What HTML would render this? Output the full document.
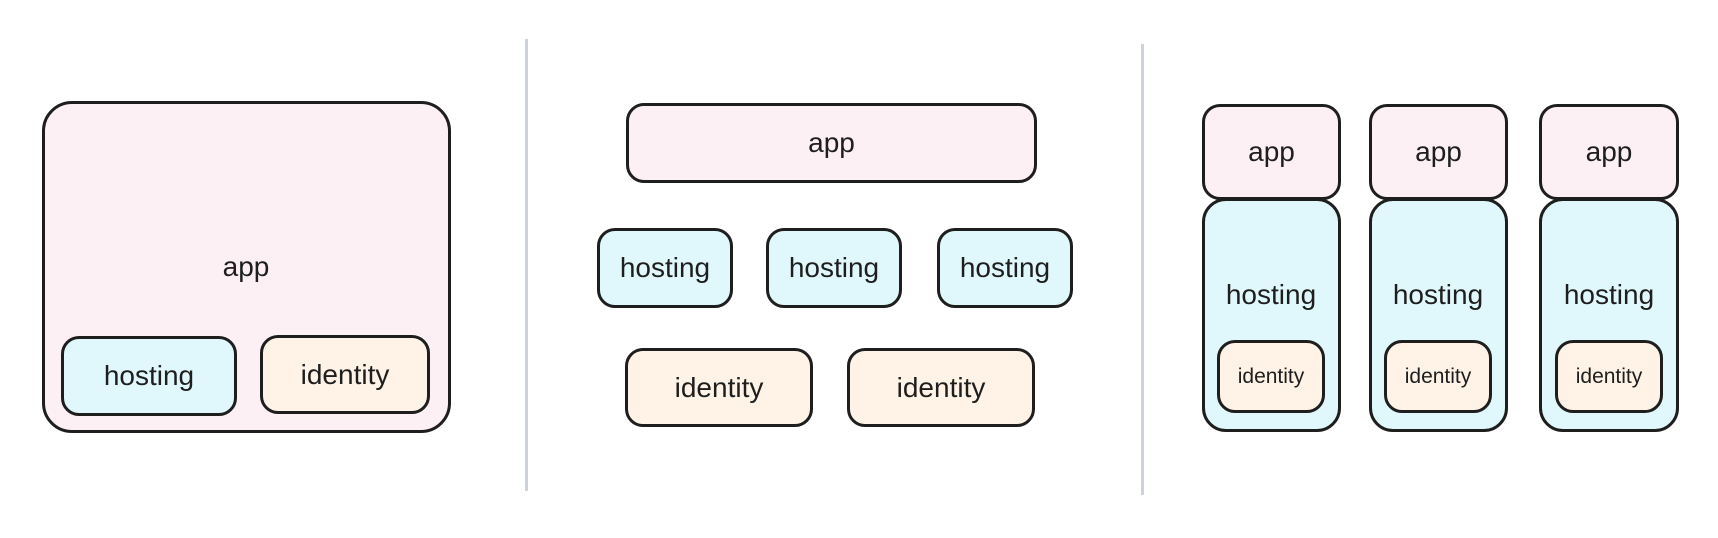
<!DOCTYPE html>
<html><head><style>
body{margin:0;width:1718px;height:538px;background:#fff;position:relative;overflow:hidden;font-family:"Liberation Sans",sans-serif;color:#1e1e1e}
.b{position:absolute;box-sizing:border-box;border:3px solid #1e1e1e;border-radius:18px;display:flex;align-items:center;justify-content:center;font-size:28px}
.p{background:#fcf0f4}.c{background:#e0f8fb}.y{background:#fef3e6}
.d{position:absolute;width:3px;background:#cdd3de}
.t{position:absolute;font-size:28px;transform:translate(-50%,-50%)}
</style></head><body>
<div class="b p" style="left:42px;top:101px;width:409px;height:332px;border-radius:30px"></div>
<div class="t" style="left:246px;top:267px">app</div>
<div class="b c" style="left:61px;top:336px;width:176px;height:80px">hosting</div>
<div class="b y" style="left:260px;top:335px;width:170px;height:79px">identity</div>
<div class="d" style="left:525px;top:39px;height:452px"></div>

<div class="b p" style="left:626px;top:103px;width:411px;height:80px">app</div>
<div class="b c" style="left:597px;top:228px;width:136px;height:80px">hosting</div>
<div class="b c" style="left:766px;top:228px;width:136px;height:80px">hosting</div>
<div class="b c" style="left:937px;top:228px;width:136px;height:80px">hosting</div>
<div class="b y" style="left:625px;top:348px;width:188px;height:79px">identity</div>
<div class="b y" style="left:847px;top:348px;width:188px;height:79px">identity</div>
<div class="d" style="left:1141px;top:44px;height:451px"></div>

<div class="b c" style="left:1202px;top:198px;width:139px;height:234px;border-radius:24px"></div>
<div class="b p" style="left:1202px;top:104px;width:139px;height:96px">app</div>
<div class="t" style="left:1271px;top:295px">hosting</div>
<div class="b y" style="left:1217px;top:340px;width:108px;height:73px;font-size:21px">identity</div>

<div class="b c" style="left:1369px;top:198px;width:139px;height:234px;border-radius:24px"></div>
<div class="b p" style="left:1369px;top:104px;width:139px;height:96px">app</div>
<div class="t" style="left:1438px;top:295px">hosting</div>
<div class="b y" style="left:1384px;top:340px;width:108px;height:73px;font-size:21px">identity</div>

<div class="b c" style="left:1539px;top:198px;width:140px;height:234px;border-radius:24px"></div>
<div class="b p" style="left:1539px;top:104px;width:140px;height:96px">app</div>
<div class="t" style="left:1609px;top:295px">hosting</div>
<div class="b y" style="left:1555px;top:340px;width:108px;height:73px;font-size:21px">identity</div>
</body></html>
